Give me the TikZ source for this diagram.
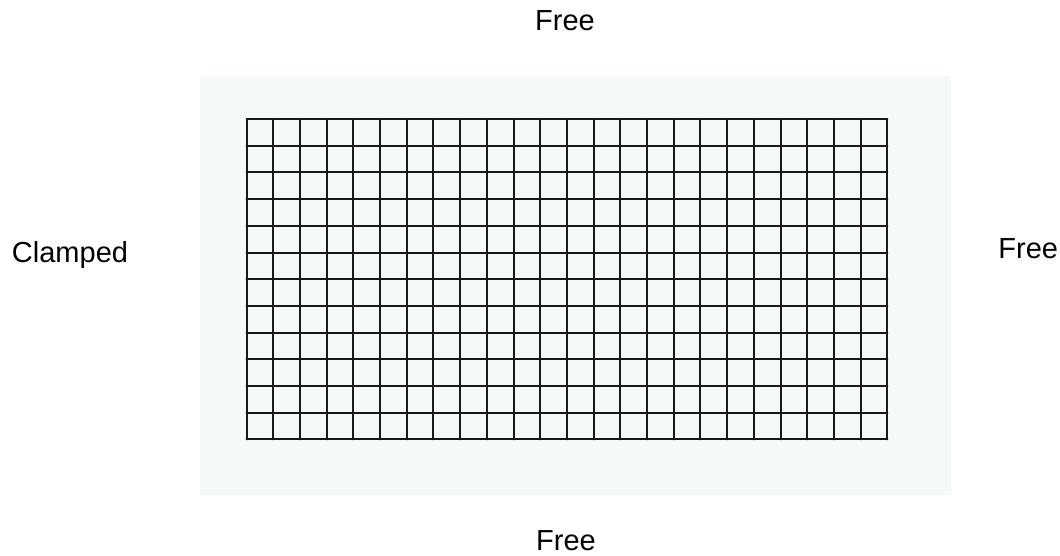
\documentclass[tikz,border=0pt]{standalone}
\usepackage{fontspec}
\setmainfont{Liberation Sans}
\definecolor{platebg}{HTML}{F5F9F7}
\begin{document}
\begin{tikzpicture}[x=0.5pt,y=-0.5pt, font=\fontsize{14.5}{16}\selectfont, line join=round, line cap=round]
	\useasboundingbox (0,0) rectangle (1060,556);
	\def\xmin{246.5} \def\ymin{119} \def\h{26.7}
	\fill[platebg] (200,76) rectangle (951,495);
	\foreach \i in {0,...,24}
	{\draw[line width=1pt, black!90] (\xmin+\i*\h,\ymin)--(\xmin+\i*\h,\ymin+12*\h);}
	\foreach \j in {0,...,12}
	{\draw[line width=1pt, black!90] (\xmin,\ymin+\j*\h)--(\xmin+24*\h,\ymin+\j*\h);}
	\node[anchor=base] (top) at (565,31) {Free};
	\node[anchor=base] (bottom) at (566,550) {Free};
	\node[anchor=base] (clamped) at (70,262) {Clamped};
	\node[anchor=base west, inner sep=0pt] (right) at (998,258) {Free};
\end{tikzpicture}
\end{document}
